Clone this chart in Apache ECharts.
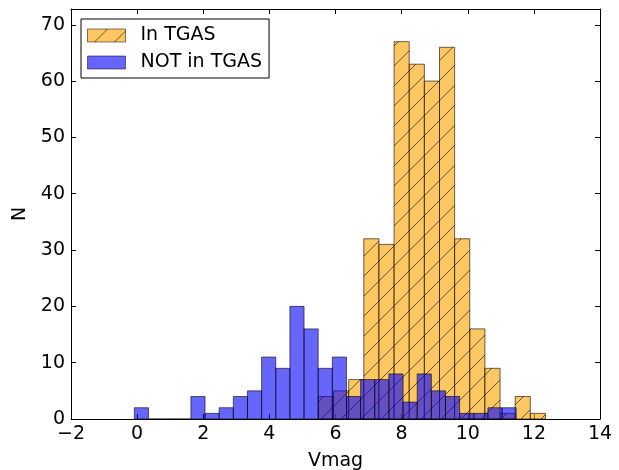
<!DOCTYPE html>
<html>
<head>
<meta charset="utf-8">
<script src="https://cdn.jsdelivr.net/npm/echarts@6/dist/echarts.min.js"></script>
<style>
html, body { margin: 0; padding: 0; background: #fff; }
#main { width: 619px; height: 470px; }
</style>
</head>
<body>
<div id="main"></div>
<script>
// histogram bins
var tgasStart = 5.483;
var tgasWidth = 0.4578;
var tgasCounts = [4, 5, 7, 32, 31, 67, 63, 60, 66, 32, 16, 9, 1, 4, 1];

var notStart = -0.085;
var notWidth = 0.4278;
var notCounts = [2, 0, 0, 0, 4, 1, 2, 4, 5, 11, 9, 20, 16, 9, 11, 4, 7, 7, 8, 3, 8, 5, 4, 1, 1, 2, 2];

function binRows(start, width, counts) {
    var rows = [];
    for (var i = 0; i < counts.length; i++) {
        rows.push([start + i * width, start + (i + 1) * width, counts[i]]);
    }
    return rows;
}

// orange fill with '/' hatching, like matplotlib hatch='/'
function hatchPattern() {
    var c = document.createElement('canvas');
    c.width = 20;
    c.height = 20;
    var g = c.getContext('2d');
    g.fillStyle = 'rgba(255,165,0,0.62)';
    g.fillRect(0, 0, 20, 20);
    g.strokeStyle = 'rgba(0,0,0,0.6)';
    g.lineWidth = 1;
    g.beginPath();
    g.moveTo(-2, 22); g.lineTo(22, -2);
    g.moveTo(-2, 2); g.lineTo(2, -2);
    g.moveTo(18, 22); g.lineTo(22, 18);
    g.stroke();
    return c;
}

function renderBin(params, api) {
    var p0 = api.coord([api.value(0), 0]);
    var p1 = api.coord([api.value(1), api.value(2)]);
    return {
        type: 'rect',
        shape: { x: p0[0], y: p1[1], width: p1[0] - p0[0], height: p0[1] - p1[1] },
        style: { fill: api.visual('color'), stroke: 'rgba(0,0,0,0.6)', lineWidth: 1 }
    };
}

var font = 'DejaVu Sans';
var myChart = echarts.init(document.getElementById('main'));

var minus = function (v) { return String(v).replace('-', '\u2212'); };

var option = {
    animation: false,
    grid: { left: 71, right: 19, top: 9, bottom: 51, containLabel: false, outerBoundsMode: 'none' },
    legend: {
        orient: 'vertical',
        left: 81,
        top: 19,
        selectedMode: false,
        icon: 'rect',
        backgroundColor: '#fff',
        borderColor: '#000',
        borderWidth: 1,
        borderRadius: 0,
        padding: [7, 7, 6, 6],
        itemWidth: 38,
        itemHeight: 13,
        itemGap: 8,
        itemStyle: { borderColor: 'rgba(0,0,0,0.5)', borderWidth: 1 },
        textStyle: { fontFamily: font, fontSize: 19, color: '#000', padding: [0, 0, 0, 10] },
        data: ['In TGAS', 'NOT in TGAS']
    },
    xAxis: [
        {
            type: 'value', min: -2, max: 14, interval: 2, position: 'bottom',
            name: 'Vmag', nameLocation: 'middle', nameGap: 33,
            nameTextStyle: { fontFamily: font, fontSize: 19, color: '#000' },
            axisLine: { show: true, onZero: false, lineStyle: { color: '#000', width: 1 } },
            axisTick: { inside: true, length: 5, lineStyle: { color: '#000' } },
            axisLabel: { fontFamily: font, fontSize: 19, color: '#000', margin: 6, formatter: minus },
            splitLine: { show: false }
        },
        {
            type: 'value', min: -2, max: 14, interval: 2, position: 'top',
            axisLine: { show: true, onZero: false, lineStyle: { color: '#000', width: 1 } },
            axisTick: { inside: true, length: 5, lineStyle: { color: '#000' } },
            axisLabel: { show: false },
            splitLine: { show: false }
        }
    ],
    yAxis: [
        {
            type: 'value', min: 0, max: 72.8, interval: 10, position: 'left',
            name: 'N', nameLocation: 'middle', nameGap: 38,
            nameTextStyle: { fontFamily: font, fontSize: 19, color: '#000' },
            axisLine: { show: true, onZero: false, lineStyle: { color: '#000', width: 1 } },
            axisTick: { inside: true, length: 5, lineStyle: { color: '#000' } },
            axisLabel: { fontFamily: font, fontSize: 19, color: '#000', margin: 6, showMaxLabel: false },
            splitLine: { show: false }
        },
        {
            type: 'value', min: 0, max: 72.8, interval: 10, position: 'right',
            axisLine: { show: true, onZero: false, lineStyle: { color: '#000', width: 1 } },
            axisTick: { inside: true, length: 5, lineStyle: { color: '#000' } },
            axisLabel: { show: false },
            splitLine: { show: false }
        }
    ],
    series: [
        {
            name: 'In TGAS',
            type: 'custom',
            renderItem: renderBin,
            encode: { x: [0, 1], y: 2 },
            itemStyle: { color: { image: hatchPattern(), repeat: 'repeat' }, borderColor: 'rgba(0,0,0,0.6)', borderWidth: 1 },
            data: binRows(tgasStart, tgasWidth, tgasCounts)
        },
        {
            name: 'NOT in TGAS',
            type: 'custom',
            renderItem: renderBin,
            encode: { x: [0, 1], y: 2 },
            itemStyle: { color: 'rgba(0,0,255,0.6)', borderColor: 'rgba(0,0,0,0.6)', borderWidth: 1 },
            data: binRows(notStart, notWidth, notCounts)
        }
    ]
};
option && myChart.setOption(option);
</script>
</body>
</html>
